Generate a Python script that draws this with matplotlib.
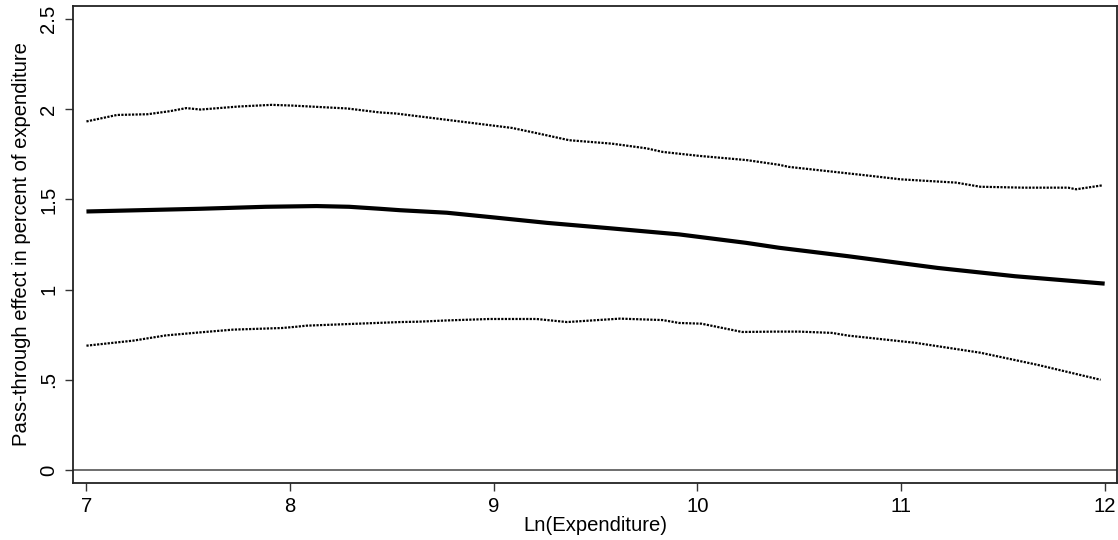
import matplotlib
matplotlib.use("Agg")
import matplotlib.pyplot as plt

# --- Data ---

# point estimate (solid line)
est_x = [7.00, 7.56, 7.88, 8.13, 8.29, 8.44, 8.54, 8.77, 9.00, 9.26, 9.58,
         9.91, 10.24, 10.40, 10.74, 11.18, 11.56, 12.00]
est_y = [1.433, 1.448, 1.459, 1.463, 1.459, 1.448, 1.440, 1.426, 1.400, 1.370,
         1.339, 1.306, 1.259, 1.232, 1.185, 1.120, 1.074, 1.033]

# upper confidence band (dotted)
upper_x = [7.00, 7.15, 7.30, 7.41, 7.49, 7.56, 7.75, 7.91, 8.01, 8.28, 8.44,
           8.52, 8.77, 9.09, 9.22, 9.37, 9.58, 9.75, 9.83, 10.01, 10.24, 10.40,
           10.45, 10.83, 11.00, 11.27, 11.39, 11.60, 11.82, 11.86, 11.99]
upper_y = [1.932, 1.968, 1.972, 1.989, 2.006, 1.998, 2.015, 2.024, 2.020, 2.004,
           1.982, 1.976, 1.941, 1.896, 1.865, 1.828, 1.809, 1.783, 1.763, 1.741,
           1.718, 1.692, 1.680, 1.633, 1.611, 1.593, 1.570, 1.565, 1.565, 1.556,
           1.578]

# lower confidence band (dotted)
lower_x = [7.00, 7.23, 7.39, 7.56, 7.72, 7.96, 8.03, 8.08, 8.54, 8.63, 8.77,
           8.98, 9.21, 9.36, 9.62, 9.83, 9.91, 10.02, 10.22, 10.38, 10.50,
           10.66, 10.74, 11.07, 11.39, 11.67, 11.98]
lower_y = [0.689, 0.717, 0.746, 0.763, 0.778, 0.787, 0.794, 0.800, 0.820, 0.822,
           0.829, 0.837, 0.837, 0.820, 0.839, 0.831, 0.815, 0.811, 0.765, 0.767,
           0.767, 0.760, 0.745, 0.705, 0.650, 0.583, 0.500]

x_ticks = [7, 8, 9, 10, 11, 12]
y_ticks = [0, 0.5, 1, 1.5, 2, 2.5]
y_tick_labels = ["0", ".5", "1", "1.5", "2", "2.5"]

x_label = "Ln(Expenditure)"
y_label = "Pass-through effect in percent of expenditure"

# --- Plot ---

plt.rcParams["font.family"] = ["Liberation Sans", "DejaVu Sans"]

fig = plt.figure(figsize=(11.18, 5.40), dpi=100)
ax = fig.add_axes([0.0653, 0.1056, 0.9337, 0.8833])

ax.axhline(0, color="#555555", linewidth=1.2, zorder=1)

dot_style = (0, (1.0, 0.6))
ax.plot(upper_x, upper_y, color="black", linewidth=1.6, linestyle=dot_style)
ax.plot(lower_x, lower_y, color="black", linewidth=1.6, linestyle=dot_style)
ax.plot(est_x, est_y, color="black", linewidth=3.0, solid_capstyle="butt")

ax.set_xlim(6.934, 12.06)
ax.set_ylim(-0.072, 2.572)

ax.set_xticks(x_ticks)
ax.set_xticklabels([str(t) for t in x_ticks])
ax.set_yticks(y_ticks)
ax.set_yticklabels(y_tick_labels, rotation=90, va="center")

ax.tick_params(axis="both", direction="out", length=5.8, width=1.0,
               color="#333333", labelsize=14.6)
ax.tick_params(axis="x", pad=4)
ax.tick_params(axis="y", pad=5)

for spine in ax.spines.values():
    spine.set_linewidth(1.3)
    spine.set_color("#222222")

ax.set_xlabel(x_label, fontsize=14.6, labelpad=0)
ax.set_ylabel(y_label, fontsize=14.6, labelpad=6)

fig.savefig("out.png", dpi=100)
plt.close(fig)
